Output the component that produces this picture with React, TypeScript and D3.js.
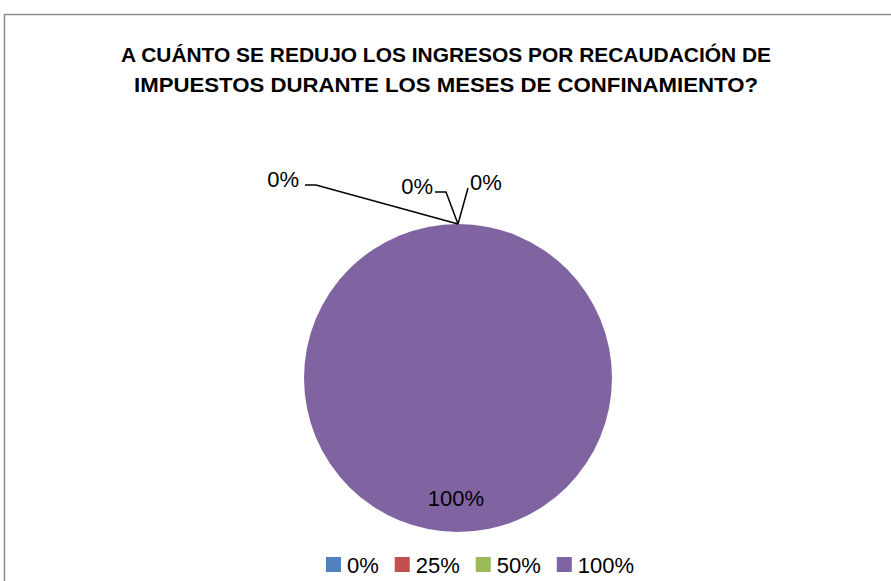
import React from "react";
import * as d3 from "d3";

const titleLines = [
  "A CUÁNTO SE REDUJO LOS INGRESOS POR RECAUDACIÓN DE",
  "IMPUESTOS DURANTE LOS MESES DE CONFINAMIENTO?",
];
const titleWidths = [650, 624];
const categories = ["0%", "25%", "50%", "100%"];
const values = [0, 0, 0, 100];
const colors = ["#4F81BD", "#C0504D", "#9BBB59", "#8064A2"];

const W = 891;
const H = 581;
const FONT = "'Liberation Sans', Arial, sans-serif";

function measure(text: string, font: string): number {
  if (typeof document === "undefined") return text.length * 12;
  const c = document.createElement("canvas").getContext("2d");
  if (!c) return text.length * 12;
  c.font = font;
  return c.measureText(text).width;
}

export default function App() {
  const cx = 458;
  const cy = 378;
  const r = 154;
  const total = d3.sum(values);
  const pie = d3.pie<number>().sort(null).value((d) => d)(values);
  const arc = d3.arc<d3.PieArcDatum<number>>().innerRadius(0).outerRadius(r);

  const zeroOffsets = [
    { lx: -142, ly: -39, tx: -6, anchor: "end" },
    { lx: -12, ly: -32, tx: -2, anchor: "end" },
    { lx: 10, ly: -36, tx: 2, anchor: "start" },
  ];

  const legendFontSize = 22;
  const legendFont = `${legendFontSize}px ${FONT}`;
  const sq = 15;
  const gapSq = 6;
  const gapItem = 16;
  const widths = categories.map((c) => measure(c, legendFont));
  const itemW = widths.map((w) => sq + gapSq + w);
  const totalW = d3.sum(itemW) + gapItem * (categories.length - 1);
  let lx0 = 480 - totalW / 2;
  const legendX: number[] = [];
  itemW.forEach((w) => {
    legendX.push(lx0);
    lx0 += w + gapItem;
  });

  return (
    <svg
      width={W}
      height={H}
      style={{ position: "fixed", left: 0, top: 0, background: "#fff" }}
    >
      <rect x={4.5} y={14.5} width={W + 20} height={H + 20} fill="#fff" stroke="#8c8c8c" strokeWidth={1.5} />
      {titleLines.map((t, i) => (
        <text
          key={i}
          x={446}
          y={62 + i * 30}
          textAnchor="middle"
          fontFamily={FONT}
          fontWeight="bold"
          fontSize={20}
          textLength={titleWidths[i]}
          lengthAdjust="spacingAndGlyphs"
          fill="#000"
        >
          {t}
        </text>
      ))}
      <g transform={`translate(${cx},${cy})`}>
        {pie.map((d, i) => (
          <path key={i} d={arc(d) || ""} fill={colors[i]} />
        ))}
        {pie.map((d, i) => {
          const pct = Math.round((d.value / total) * 100) + "%";
          if (d.value / total > 0.5) {
            return (
              <text
                key={"l" + i}
                x={-2}
                y={128}
                textAnchor="middle"
                fontFamily={FONT}
                fontSize={22}
                fill="#000"
              >
                {pct}
              </text>
            );
          }
          const mid = (d.startAngle + d.endAngle) / 2;
          const ax = Math.sin(mid) * r;
          const ay = -Math.cos(mid) * r;
          const o = zeroOffsets[i];
          const ex = ax + o.lx;
          const ey = ay + o.ly;
          const hx = ex + (o.anchor === "end" ? -11 : 0);
          return (
            <g key={"l" + i}>
              <polyline
                points={`${ax},${ay} ${ex},${ey} ${hx},${ey}`}
                fill="none"
                stroke="#000"
                strokeWidth={1.5}
              />
              <text
                x={(o.anchor === "end" ? hx : ex) + o.tx}
                y={ey + 2}
                textAnchor={o.anchor as any}
                fontFamily={FONT}
                fontSize={22}
                fill="#000"
              >
                {pct}
              </text>
            </g>
          );
        })}
      </g>
      {categories.map((c, i) => (
        <g key={c}>
          <rect x={legendX[i]} y={557} width={sq} height={sq} fill={colors[i]} />
          <text
            x={legendX[i] + sq + gapSq}
            y={573}
            fontFamily={FONT}
            fontSize={legendFontSize}
            fill="#000"
          >
            {c}
          </text>
        </g>
      ))}
    </svg>
  );
}
